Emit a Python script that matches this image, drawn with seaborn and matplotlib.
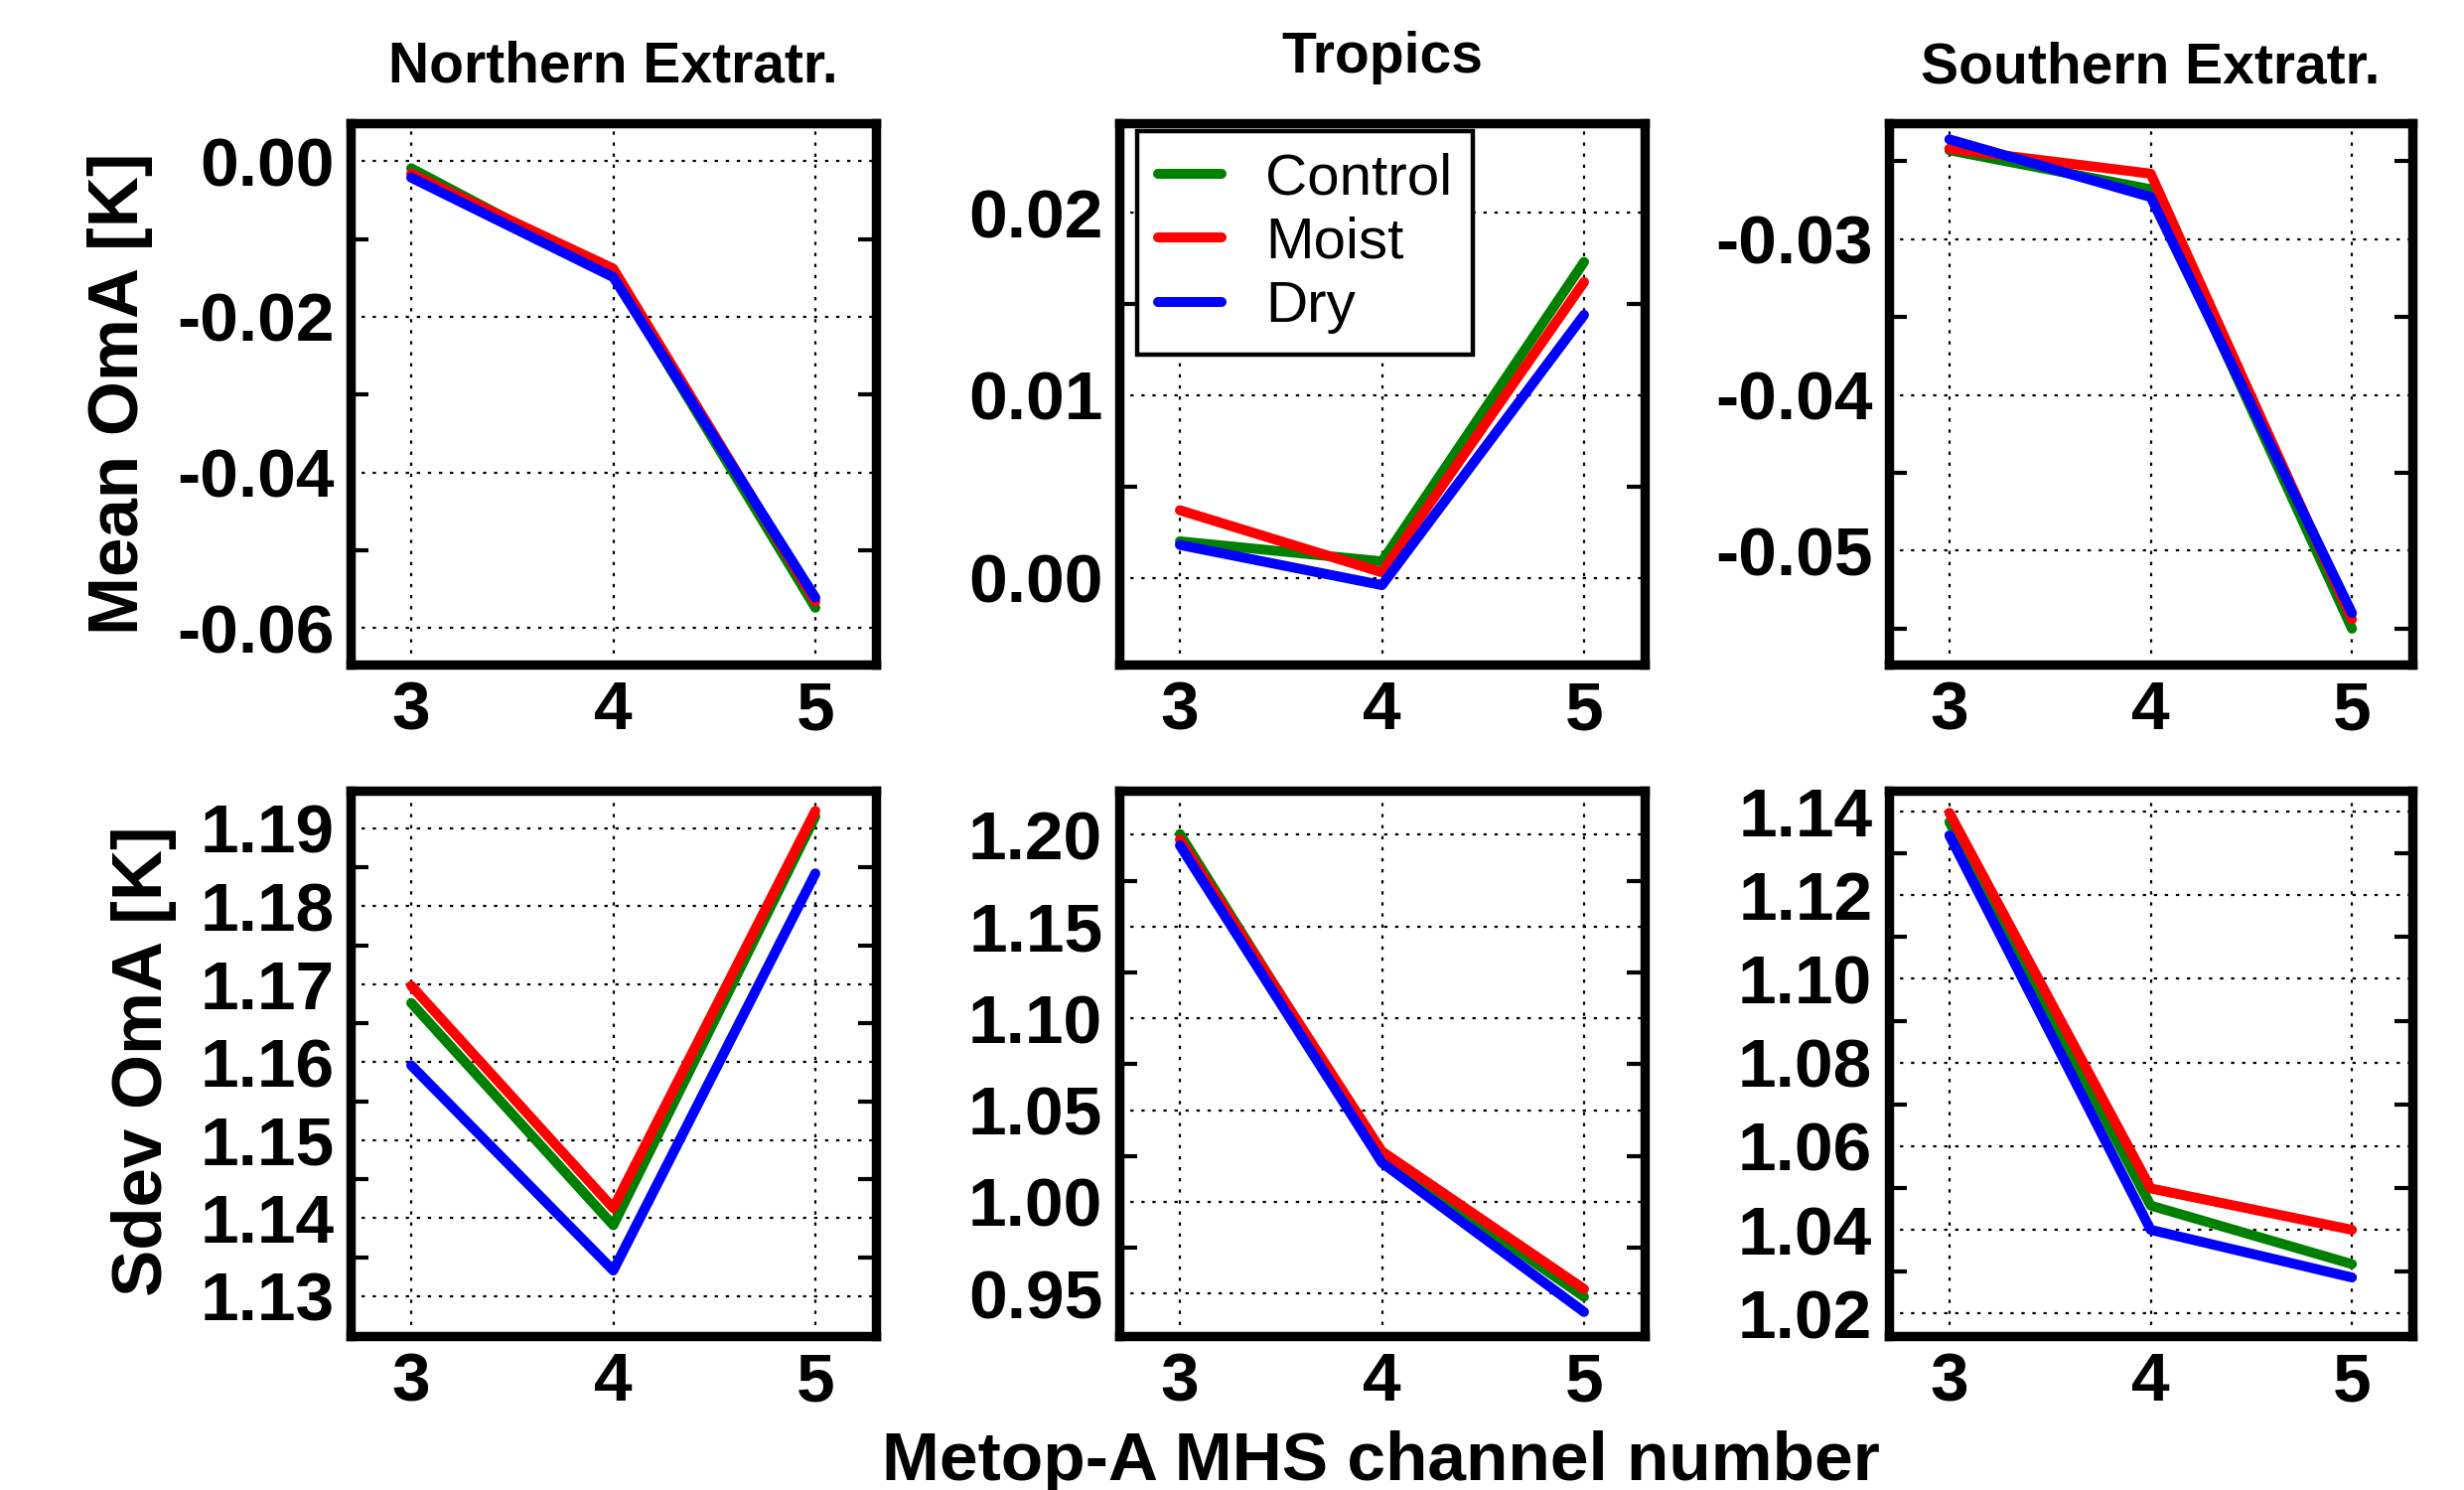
#!/usr/bin/env python
# -*- coding: utf-8 -*-

"""
Mean and standard deviation of OmA for Metop-A MHS channels 3-5,
three experiments (Control, Moist, Dry) over three latitude bands.
"""

import matplotlib
matplotlib.use("Agg")
import matplotlib.pyplot as plt
from matplotlib.ticker import MultipleLocator, FuncFormatter
import pandas as pd
import seaborn as sns

# ---- data -------------------------------------------------------------
CHANNELS = [3, 4, 5]
EXPERIMENTS = ["Control", "Moist", "Dry"]
REGIONS = ["Northern Extratr.", "Tropics", "Southern Extratr."]

# Mean OmA [K]
MEAN_NH = {
    "Control": [-0.0009, -0.0146, -0.0574],
    "Moist": [-0.0016, -0.0138, -0.0566],
    "Dry": [-0.0021, -0.0149, -0.0561],
}
MEAN_TR = {
    "Control": [0.0020, 0.0009, 0.0173],
    "Moist": [0.0037, 0.0003, 0.0162],
    "Dry": [0.0018, -0.0004, 0.0144],
}
MEAN_SH = {
    "Control": [-0.0243, -0.0268, -0.0550],
    "Moist": [-0.0242, -0.0258, -0.0544],
    "Dry": [-0.0236, -0.0273, -0.0540],
}

# Sdev OmA [K]
SDEV_NH = {
    "Control": [1.1676, 1.1391, 1.1915],
    "Moist": [1.1698, 1.1413, 1.1922],
    "Dry": [1.1596, 1.1333, 1.1842],
}
SDEV_TR = {
    "Control": [1.2004, 1.0244, 0.9483],
    "Moist": [1.1973, 1.0275, 0.9525],
    "Dry": [1.1942, 1.0213, 0.9400],
}
SDEV_SH = {
    "Control": [1.1375, 1.0458, 1.0318],
    "Moist": [1.1397, 1.0499, 1.0400],
    "Dry": [1.1343, 1.0400, 1.0286],
}

COLORS = {"Control": "#008000", "Moist": "#ff0000", "Dry": "#0000ff"}

# ---- panel settings (axis limits / tick spacing) ----------------------
YLIMS = [
    [(-0.0647, 0.0049), (-0.00475, 0.0249), (-0.0573, -0.02256)],
    [(1.1249, 1.1948), (0.9269, 1.2240), (1.0146, 1.1450)],
]
YSTEPS = [
    [(0.02, 0.01), (0.01, 0.005), (0.01, 0.005)],
    [(0.01, 0.005), (0.05, 0.025), (0.02, 0.01)],
]
TITLE_PADS = [30, 37, 29]

W, H = 2481, 1500
COL_X = [(353, 529), (1127, 529), (1902, 527)]
ROW_Y = [(124, 545), (796, 549)]


def build_frame():
    rows = []
    tables = [("mean", [MEAN_NH, MEAN_TR, MEAN_SH]),
              ("sdev", [SDEV_NH, SDEV_TR, SDEV_SH])]
    for stat, per_region in tables:
        for region, table in zip(REGIONS, per_region):
            for exp in EXPERIMENTS:
                for ch, val in zip(CHANNELS, table[exp]):
                    rows.append({"stat": stat, "region": region,
                                 "experiment": exp, "channel": ch,
                                 "value": val})
    return pd.DataFrame(rows)


def fmt(v, pos):
    return f"{round(v, 4) + 0.0:.2f}"


def main():
    df = build_frame()

    sns.set_style("white")
    plt.rcParams["font.family"] = ["Liberation Sans", "DejaVu Sans"]
    plt.rcParams["font.weight"] = "bold"
    plt.rcParams["axes.unicode_minus"] = False
    for key in ["text.color", "axes.labelcolor", "xtick.color",
                "ytick.color", "axes.edgecolor"]:
        plt.rcParams[key] = "black"

    fig = plt.figure(figsize=(W / 100, H / 100), dpi=100)

    for r, stat in enumerate(["mean", "sdev"]):
        top, h = ROW_Y[r]
        for c, region in enumerate(REGIONS):
            left, w = COL_X[c]
            ax = fig.add_axes([left / W, 1 - (top + h) / H, w / W, h / H])
            sub = df[(df["stat"] == stat) & (df["region"] == region)]
            show_leg = (r == 0 and c == 1)
            sns.lineplot(data=sub, x="channel", y="value", hue="experiment",
                         hue_order=EXPERIMENTS, palette=COLORS,
                         linewidth=7.2, ax=ax, legend=show_leg, zorder=3)

            ax.set_xlim(2.7, 5.3)
            ax.set_ylim(*YLIMS[r][c])
            ax.set_xticks(CHANNELS)
            major, minor = YSTEPS[r][c]
            ax.yaxis.set_major_locator(MultipleLocator(major))
            ax.yaxis.set_minor_locator(MultipleLocator(minor))
            ax.yaxis.set_major_formatter(FuncFormatter(fmt))

            ax.set_xlabel("")
            ax.set_ylabel("")
            ax.set_axisbelow(True)
            ax.grid(True, which="major", color="black",
                    linestyle=(0, (1.5, 3.5)), linewidth=1.6)

            for sp in ax.spines.values():
                sp.set_linewidth(6.8)
                sp.set_color("black")

            ax.tick_params(axis="both", which="major", direction="in",
                           length=0, labelsize=50, colors="black")
            ax.tick_params(axis="x", which="major", pad=11)
            ax.tick_params(axis="y", which="major", pad=12)
            ax.tick_params(axis="y", which="minor", direction="in",
                           length=13, width=3, left=True, right=True)
            ax.tick_params(axis="x", which="minor", bottom=False)

            if r == 0:
                ax.set_title(region, fontsize=41, fontweight="bold",
                             color="black", pad=TITLE_PADS[c])

            if show_leg:
                sns.move_legend(ax, "upper left",
                                bbox_to_anchor=(0.034, 0.985),
                                borderaxespad=0, title=None,
                                prop={"size": 42, "weight": "normal"},
                                handlelength=1.1, handletextpad=0.75,
                                labelspacing=0.18, borderpad=0.36,
                                frameon=True, fancybox=False,
                                edgecolor="black", framealpha=1,
                                labelcolor="black")
                frame = ax.get_legend().get_frame()
                frame.set_linewidth(3.2)

    fig.text(121 / W, 1 - 396 / H, "Mean OmA [K]", rotation=90,
             ha="center", va="center", fontsize=51, fontweight="bold",
             color="black")
    fig.text(145 / W, 1 - 1068 / H, "Sdev OmA [K]", rotation=90,
             ha="center", va="center", fontsize=51, fontweight="bold",
             color="black")
    fig.text(1390 / W, 1 - 1490 / H, "Metop-A MHS channel number",
             ha="center", va="baseline", fontsize=50, fontweight="bold",
             color="black")

    fig.savefig("out.png", dpi=100, facecolor="white")
    plt.close(fig)


if __name__ == "__main__":
    main()
